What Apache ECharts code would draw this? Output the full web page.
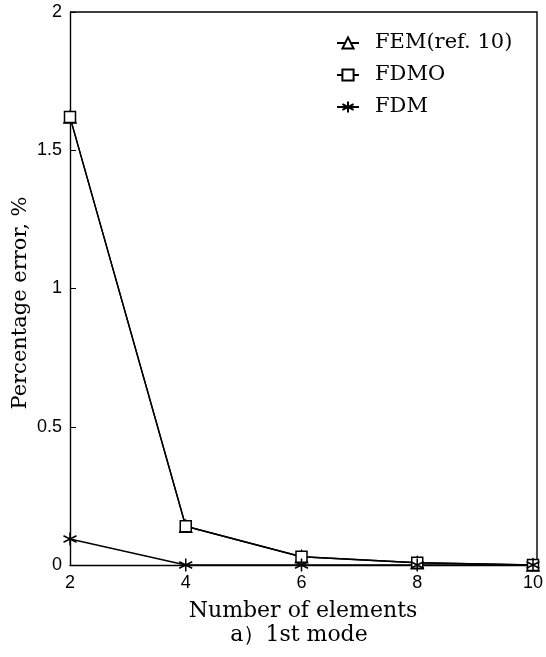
<!DOCTYPE html>
<html>
<head>
<meta charset="utf-8">
<script src="https://cdn.jsdelivr.net/npm/echarts@6/dist/echarts.min.js"></script>
<style>
  html, body { margin: 0; padding: 0; background: #fff; }
  #chart { width: 546px; height: 657px; }
</style>
</head>
<body>
<div id="chart"></div>
<script>
'use strict';

// number of elements
var elements = [2, 4, 6, 8, 10];
// percentage error
var femErr = [1.62, 0.14, 0.03, 0.008, 0.0];
var fdmoErr = [1.62, 0.14, 0.03, 0.008, 0.0];
var fdmErr = [0.094, 0.0, 0.0, 0.0, 0.0];
var yTicks = [0, 0.5, 1, 1.5, 2];

var serif = '"DejaVu Serif", "Liberation Serif", serif';
var sans = '"Liberation Sans", Arial, sans-serif';
var star = 'path://M0,-10L0,10M-8.66,-5L8.66,5M-8.66,5L8.66,-5';

function pairs(xs, ys) {
    var out = [];
    for (var i = 0; i < xs.length; i++) {
        out.push([xs[i], ys[i]]);
    }
    return out;
}

function lineSeries(name, values, symbol, size) {
    return {
        name: name,
        type: 'line',
        data: pairs(elements, values),
        symbol: symbol,
        symbolSize: size,
        showAllSymbol: true,
        lineStyle: { color: '#000', width: 1.4 },
        itemStyle: { color: '#fff', borderColor: '#000', borderWidth: 1.5 },
        animation: false
    };
}

var chart = echarts.init(document.getElementById('chart'));
var option = {
    backgroundColor: '#fff',
    grid: { left: 70, right: 9, top: 12, bottom: 92 },
    legend: {
        orient: 'vertical',
        left: 331,
        top: 27,
        itemWidth: 22,
        itemHeight: 14,
        itemGap: 10,
        textStyle: {
            fontFamily: serif, fontSize: 21, lineHeight: 22, color: '#000',
            padding: [0, 0, 0, 11]
        },
        data: ['FEM(ref. 10)', 'FDMO', 'FDM']
    },
    xAxis: {
        type: 'value',
        min: 2,
        max: 10,
        interval: 2,
        axisLine: { lineStyle: { color: '#000', width: 1.4 } },
        axisTick: { show: false },
        axisLabel: { fontFamily: sans, fontSize: 18, color: '#000', margin: 9 },
        splitLine: { show: false }
    },
    yAxis: {
        type: 'value',
        min: yTicks[0],
        max: yTicks[yTicks.length - 1],
        interval: 0.5,
        axisLine: { lineStyle: { color: '#000', width: 1.4 } },
        axisTick: { show: true, inside: true, length: 6, lineStyle: { color: '#000' } },
        axisLabel: { fontFamily: sans, fontSize: 18, color: '#000', margin: 8 },
        splitLine: { show: false }
    },
    graphic: [
        {
            // top and right frame of the plot box
            type: 'polyline',
            shape: { points: [[70, 12], [537, 12], [537, 565]] },
            style: { stroke: '#000', lineWidth: 1.4, fill: null }
        },
        {
            type: 'text',
            x: 303,
            y: 622,
            style: {
                text: 'Number of elements', font: '22px ' + serif, fill: '#000',
                textAlign: 'center', textVerticalAlign: 'bottom'
            }
        },
        {
            type: 'text',
            x: 299,
            y: 646,
            style: {
                text: 'a）1st mode', font: '22px ' + serif, fill: '#000',
                textAlign: 'center', textVerticalAlign: 'bottom'
            }
        },
        {
            type: 'text',
            x: 21,
            y: 303,
            rotation: Math.PI / 2,
            style: {
                text: 'Percentage error, %', font: '21px ' + serif, fill: '#000',
                textAlign: 'center', textVerticalAlign: 'middle'
            }
        }
    ],
    series: [
        lineSeries('FEM(ref. 10)', femErr, 'triangle', 12),
        lineSeries('FDMO', fdmoErr, 'rect', 11),
        lineSeries('FDM', fdmErr, star, 13)
    ]
};
chart.setOption(option);
</script>
</body>
</html>
